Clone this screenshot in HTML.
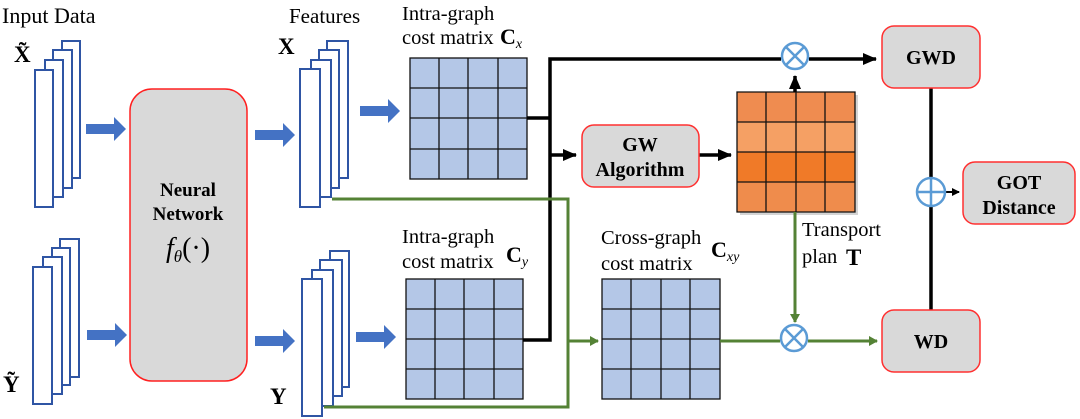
<!DOCTYPE html>
<html><head><meta charset="utf-8"><style>
html,body{margin:0;padding:0;background:#fff;}
svg{display:block;}
text{font-family:"Liberation Serif",serif;}
.b{font-weight:bold;}
</style></head><body>
<svg width="1080" height="419" viewBox="0 0 1080 419" xmlns="http://www.w3.org/2000/svg">
<defs>
<marker id="ak" markerWidth="8" markerHeight="8" refX="7" refY="4" orient="auto" markerUnits="userSpaceOnUse"><path d="M0,0 L8,4 L0,8 z" fill="#000"/></marker>
<marker id="ag" markerWidth="9" markerHeight="10" refX="8" refY="5" orient="auto" markerUnits="userSpaceOnUse"><path d="M0,0 L9,5 L0,10 z" fill="#548235"/></marker>
<marker id="ak2" markerWidth="14" markerHeight="12" refX="13" refY="6" orient="auto" markerUnits="userSpaceOnUse"><path d="M0,0 L14,6 L0,12 z" fill="#000"/></marker>
<g id="ba"><path d="M0,-5 H28 V-12 L40,0 L28,12 V5 H0 z" fill="#4472c4"/></g>
</defs>
<text x="2" y="23" font-size="22">Input Data</text>
<text x="289" y="23" font-size="21">Features</text>
<text x="14" y="62" font-size="23" class="b">X̃</text>
<text x="3" y="392" font-size="23" class="b">Ỹ</text>
<text x="278" y="54" font-size="23" class="b">X</text>
<text x="270" y="404" font-size="23" class="b">Y</text>
<g fill="#fff" stroke="#2f55a4" stroke-width="2">
<rect x="62" y="41" width="18" height="137"/><rect x="53" y="50" width="19" height="138"/><rect x="45" y="60" width="18" height="137"/><rect x="35" y="70" width="18" height="137"/>
<rect x="60" y="239" width="19" height="138"/><rect x="52" y="248" width="18" height="137"/><rect x="43" y="257" width="19" height="137"/><rect x="33" y="267" width="19" height="137"/>
<rect x="327" y="41" width="21" height="137"/><rect x="319" y="50" width="20" height="138"/><rect x="311" y="60" width="20" height="137"/><rect x="300" y="69" width="20" height="138"/>
<rect x="330" y="251" width="19" height="136"/><rect x="320" y="260" width="22" height="136"/><rect x="312" y="270" width="21" height="136"/><rect x="302" y="279" width="20" height="137"/>
</g>
<use href="#ba" x="86" y="129"/><use href="#ba" x="87" y="335"/>
<use href="#ba" x="255" y="135"/><use href="#ba" x="255" y="341"/>
<use href="#ba" x="360" y="111"/><use href="#ba" x="356" y="337"/>
<rect x="130" y="89" width="117" height="292" rx="22" fill="#d9d9d9" stroke="#ff2020" stroke-width="1.5"/>
<text x="188" y="196" font-size="19" class="b" text-anchor="middle">Neural</text>
<text x="188" y="220" font-size="19" class="b" text-anchor="middle">Network</text>
<text x="188" y="257" font-size="28" font-style="italic" text-anchor="middle">f<tspan font-size="17" dy="5">θ</tspan><tspan dy="-5" font-style="normal">(·)</tspan></text>
<text x="402" y="20" font-size="20.5">Intra-graph</text>
<text x="402" y="44" font-size="20.5">cost matrix</text>
<text x="500" y="44" font-size="22" class="b">C<tspan font-size="14" font-style="italic" font-weight="normal" dy="4">x</tspan></text>
<text x="402" y="243" font-size="20.5">Intra-graph</text>
<text x="402" y="268" font-size="20.5">cost matrix</text>
<text x="506" y="262" font-size="22" class="b">C<tspan font-size="14" font-style="italic" font-weight="normal" dy="4">y</tspan></text>
<text x="601" y="244" font-size="20.5">Cross-graph</text>
<text x="601" y="270" font-size="20.5">cost matrix</text>
<text x="711" y="257" font-size="22" class="b">C<tspan font-size="14" font-style="italic" font-weight="normal" dy="4">xy</tspan></text>
<text x="802" y="236" font-size="20.5">Transport</text>
<text x="802" y="263" font-size="20.5">plan</text>
<text x="846" y="265" font-size="23" class="b">T</text>
<g stroke="#111" stroke-width="1.3" fill="#b4c7e7">
<rect x="410" y="58" width="117" height="121"/>
<path d="M439,58V179M468,58V179M498,58V179M410,88H527M410,118H527M410,149H527" fill="none"/>
<rect x="406" y="279" width="117" height="120"/>
<path d="M435,279V399M464,279V399M494,279V399M406,309H523M406,339H523M406,369H523" fill="none"/>
<rect x="602" y="279" width="118" height="120"/>
<path d="M631,279V399M661,279V399M690,279V399M602,309H720M602,339H720M602,369H720" fill="none"/>
</g>
<rect x="740" y="95" width="118" height="120" fill="#aaa" opacity="0.5"/>
<rect x="737" y="92" width="118" height="30" fill="#ef8c50"/>
<rect x="737" y="122" width="118" height="30" fill="#f5a064"/>
<rect x="737" y="152" width="118" height="30" fill="#f07a28"/>
<rect x="737" y="182" width="118" height="30" fill="#ef8c4c"/>
<path d="M737,92H855V212H737zM766,92V212M796,92V212M825,92V212M737,122H855M737,152H855M737,182H855" fill="none" stroke="#111" stroke-width="1.3"/>
<g stroke="#000" stroke-width="3.5" fill="none">
<path d="M527,118H550M523,340H550V59H781"/>
<path d="M550,155H576" marker-end="url(#ak2)"/>
<path d="M699,155H731" marker-end="url(#ak2)"/>
<path d="M809,59H876" marker-end="url(#ak2)"/>
<path d="M795,92V76" marker-end="url(#ak2)"/>
<path d="M931,88V310"/>
</g>
<path d="M945,192H959" stroke="#000" stroke-width="2" marker-end="url(#ak)"/>
<g stroke="#548235" stroke-width="3" fill="none">
<path d="M332,199H568V407H324"/>
<path d="M568,341H598" marker-end="url(#ag)"/>
<path d="M720,341H780"/>
<path d="M795,212V322" marker-end="url(#ag)"/>
<path d="M808,341H877" marker-end="url(#ag)"/>
</g>
<g stroke="#5b9bd5" stroke-width="2.5" fill="#fff">
<circle cx="795" cy="56" r="13"/><path d="M786,47L804,65M804,47L786,65"/>
<circle cx="794" cy="338" r="13"/><path d="M785,329L803,347M803,329L785,347"/>
<circle cx="931" cy="192" r="14"/><path d="M917,192H945M931,178V206"/>
</g>
<g fill="#d9d9d9" stroke="#ff3030" stroke-width="1.5">
<rect x="582" y="125" width="117" height="62" rx="12"/>
<rect x="882" y="26" width="98" height="62" rx="12"/>
<rect x="882" y="310" width="98" height="62" rx="12"/>
<rect x="963" y="162" width="112" height="62" rx="12"/>
</g>
<g font-size="20" class="b" text-anchor="middle">
<text x="640" y="151">GW</text><text x="640" y="176">Algorithm</text>
<text x="931" y="64">GWD</text>
<text x="931" y="348">WD</text>
<text x="1019" y="189">GOT</text><text x="1019" y="214">Distance</text>
</g>
</svg>
</body></html>
